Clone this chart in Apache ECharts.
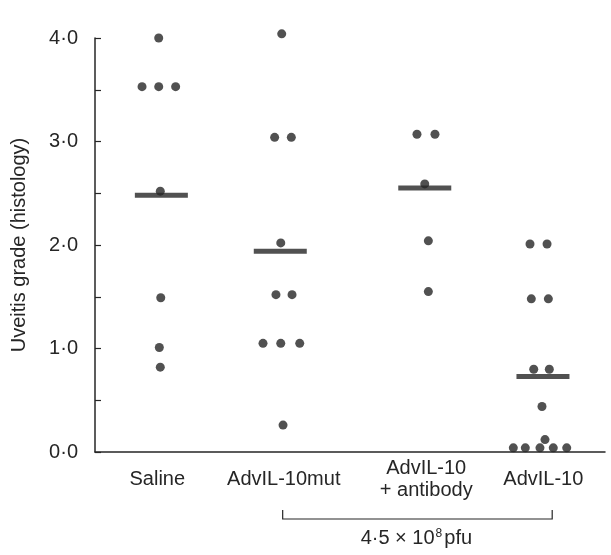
<!DOCTYPE html>
<html>
<head>
<meta charset="utf-8">
<script src="https://cdn.jsdelivr.net/npm/echarts@6/dist/echarts.min.js"></script>
<style>
html,body{margin:0;padding:0;background:#fff;}
#chart{width:611px;height:555px;}
</style>
</head>
<body>
<div id="chart"></div>
<script>
// ---- data ----
const categories = ['Saline', 'AdvIL-10mut', 'AdvIL-10\n+ antibody', 'AdvIL-10'];
const categoryX = [0.519, 1.573, 2.76, 3.736];
const yTickLabels = ['0·0', '1·0', '2·0', '3·0', '4·0'];
const yTitle = 'Uveitis grade (histology)';
const doseText = '4·5 × 10';
const doseSup = '8';
const doseUnit = 'pfu';

const salineX = [0.531, 0.392, 0.531, 0.672, 0.544, 0.548, 0.536, 0.544];
const salineY = [4.00, 3.53, 3.53, 3.53, 2.52, 1.49, 1.01, 0.82];
const mutX = [1.556, 1.497, 1.636, 1.548, 1.508, 1.642, 1.40, 1.548, 1.706, 1.567];
const mutY = [4.04, 3.04, 3.04, 2.02, 1.52, 1.52, 1.05, 1.05, 1.05, 0.26];
const abX = [2.683, 2.833, 2.748, 2.778, 2.778];
const abY = [3.07, 3.07, 2.59, 2.04, 1.55];
const il10X = [3.625, 3.767, 3.636, 3.778, 3.656, 3.786, 3.725, 3.75, 3.486, 3.586, 3.708, 3.819, 3.931];
const il10Y = [2.01, 2.01, 1.48, 1.48, 0.80, 0.80, 0.44, 0.12, 0.04, 0.04, 0.04, 0.04, 0.04];

const meanX = [0.553, 1.544, 2.748, 3.733];
const meanY = [2.48, 1.94, 2.55, 0.73];

const bracketX = [1.564, 3.81];
const doseX = 2.678;

// ---- build ----
function pairs(xs, ys) { return xs.map((x, i) => [x, ys[i]]); }
const dots = [].concat(pairs(salineX, salineY), pairs(mutX, mutY), pairs(abX, abY), pairs(il10X, il10Y));
const means = pairs(meanX, meanY);

const FONT = 'Liberation Sans, Arial, Helvetica, sans-serif';
const INK = '#262626';

const chart = echarts.init(document.getElementById('chart'), null, {renderer: 'canvas'});
chart.setOption({
  animation: false,
  backgroundColor: '#fff',
  grid: {left: 95, right: 6, top: 38, bottom: 103, containLabel: false},
  xAxis: {
    type: 'value', min: 0, max: 4.25,
    axisLine: {show: true, onZero: false, lineStyle: {color: INK, width: 1.5}},
    axisTick: {show: false}, axisLabel: {show: false}, splitLine: {show: false}
  },
  yAxis: {
    type: 'value', min: 0, max: 4, interval: 0.5,
    name: yTitle, nameLocation: 'middle', nameGap: 66,
    nameTextStyle: {fontFamily: FONT, fontSize: 20, color: INK},
    axisLine: {show: true, lineStyle: {color: INK, width: 1.5}},
    axisTick: {show: true, inside: true, length: 6, lineStyle: {color: INK, width: 1.2}},
    axisLabel: {
      margin: 17, fontFamily: FONT, fontSize: 20, color: INK,
      formatter: v => (Math.abs(v - Math.round(v)) < 1e-6 ? yTickLabels[Math.round(v)] : '')
    },
    splitLine: {show: false}
  },
  series: [
    {
      type: 'scatter', data: dots, symbol: 'circle', symbolSize: 9,
      itemStyle: {color: INK}, clip: false, z: 3
    },
    {
      type: 'scatter', data: means, symbol: 'rect', symbolSize: [53, 5],
      itemStyle: {color: INK}, clip: false, z: 2
    }
  ]
});

function px(x, y) { return chart.convertToPixel({gridIndex: 0}, [x, y]); }
const base = px(0, 0)[1];
const graphics = [];
categories.forEach((c, i) => {
  const p = px(categoryX[i], 0);
  graphics.push({
    type: 'text', x: p[0], y: base + 27,
    style: {text: c, fontFamily: FONT, fontSize: 20, fill: INK, align: 'center', verticalAlign: 'middle', lineHeight: 22}
  });
});
const b1 = px(bracketX[0], 0)[0], b2 = px(bracketX[1], 0)[0];
graphics.push({
  type: 'polyline',
  shape: {points: [[b1, base + 58], [b1, base + 67], [b2, base + 67], [b2, base + 58]]},
  style: {stroke: INK, lineWidth: 1.2, fill: null}
});
graphics.push({
  type: 'text', x: px(doseX, 0)[0], y: base + 84,
  style: {
    text: '{m|' + doseText + '}{s|' + doseSup + '}{m|' + doseUnit + '}',
    align: 'center', verticalAlign: 'middle',
    rich: {
      m: {fontFamily: FONT, fontSize: 20, fill: INK, lineHeight: 24, verticalAlign: 'bottom'},
      s: {fontFamily: FONT, fontSize: 12, fill: INK, lineHeight: 12, verticalAlign: 'top', padding: [4, 2, 0, 1]}
    }
  }
});
chart.setOption({graphic: graphics});
</script>
</body>
</html>
